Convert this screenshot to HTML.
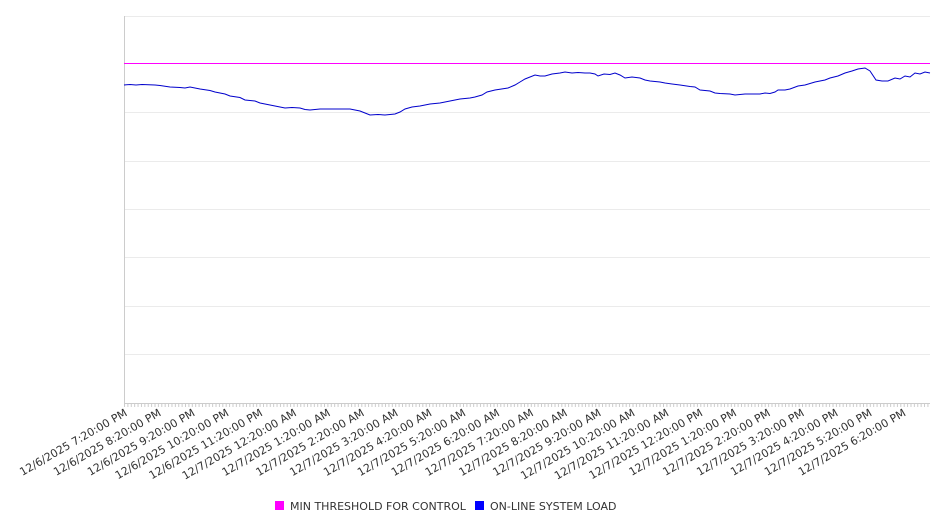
<!DOCTYPE html>
<html><head><meta charset="utf-8"><style>
html,body{margin:0;padding:0;background:#fff;}
svg{display:block;font-family:"DejaVu Sans","Liberation Sans",sans-serif;}
</style></head><body>
<svg width="946" height="526" viewBox="0 0 946 526" xmlns="http://www.w3.org/2000/svg">
<defs>
<pattern id="tk" x="124" y="403" width="3.39" height="5" patternUnits="userSpaceOnUse">
<rect x="0" y="0" width="1" height="5" fill="#ccc"/>
</pattern>
</defs>
<g stroke="#ebebeb" stroke-width="1">
<line x1="124" y1="16.5" x2="930" y2="16.5"/>
<line x1="124" y1="112.5" x2="930" y2="112.5"/>
<line x1="124" y1="161.5" x2="930" y2="161.5"/>
<line x1="124" y1="209.5" x2="930" y2="209.5"/>
<line x1="124" y1="257.5" x2="930" y2="257.5"/>
<line x1="124" y1="306.5" x2="930" y2="306.5"/>
<line x1="124" y1="354.5" x2="930" y2="354.5"/>
</g>
<line x1="124.5" y1="16" x2="124.5" y2="403" stroke="#ccc"/>
<line x1="124" y1="403.5" x2="930" y2="403.5" stroke="#ccc"/>
<rect x="124" y="403" width="806" height="4" fill="url(#tk)"/>
<rect x="124" y="63" width="806" height="1" fill="#ff00ff"/>
<polyline fill="none" stroke="#0000cc" stroke-width="1" points="124,85 130,84.5 136,85 142,84.5 155,85 160,85.5 170,87 180,87.5 185,88 190,87 200,89 210,90.5 215,92 225,94 230,96 240,97.5 245,100 255,101 260,103 270,105 275,106 285,108 292,107.5 300,108 305,109.5 310,110 320,109 335,109 350,109 355,110 360,111 365,113 370,115 378,114.5 385,115 395,114 400,112 405,109 412,107 420,106 430,104 440,103 445,102 455,100 460,99 470,98 475,97 482,95 487,92 495,90 508,88 515,85 520,82 525,79 535,75 540,76 545,76 552,74 560,73 565,72 572,73 578,72.5 585,73 590,73 595,74 598,76 604,74 610,74.5 615,73 620,75 625,78 632,77 640,78 645,80 650,81 660,82 665,83 672,84 680,85 690,86.5 695,87 700,90 710,91 715,93 720,93.5 730,94 735,95 745,94 755,94 760,94 765,93 770,93.5 775,92 778,90 785,90 790,89 798,86 805,85 815,82 825,80 830,78 838,76 845,73 852,71 858,69 865,68 870,71 876,80 882,81 888,81 895,78 900,79 905,76 910,77 915,73 920,74 925,72 930,73"/>
<g font-size="11" fill="#333" text-anchor="end">
<text x="128" y="415" transform="rotate(-30 128 415)">12/6/2025 7:20:00 PM</text>
<text x="161.85" y="415" transform="rotate(-30 161.85 415)">12/6/2025 8:20:00 PM</text>
<text x="195.7" y="415" transform="rotate(-30 195.7 415)">12/6/2025 9:20:00 PM</text>
<text x="229.55" y="415" transform="rotate(-30 229.55 415)">12/6/2025 10:20:00 PM</text>
<text x="263.4" y="415" transform="rotate(-30 263.4 415)">12/6/2025 11:20:00 PM</text>
<text x="297.25" y="415" transform="rotate(-30 297.25 415)">12/7/2025 12:20:00 AM</text>
<text x="331.1" y="415" transform="rotate(-30 331.1 415)">12/7/2025 1:20:00 AM</text>
<text x="364.95" y="415" transform="rotate(-30 364.95 415)">12/7/2025 2:20:00 AM</text>
<text x="398.8" y="415" transform="rotate(-30 398.8 415)">12/7/2025 3:20:00 AM</text>
<text x="432.65" y="415" transform="rotate(-30 432.65 415)">12/7/2025 4:20:00 AM</text>
<text x="466.5" y="415" transform="rotate(-30 466.5 415)">12/7/2025 5:20:00 AM</text>
<text x="500.35" y="415" transform="rotate(-30 500.35 415)">12/7/2025 6:20:00 AM</text>
<text x="534.2" y="415" transform="rotate(-30 534.2 415)">12/7/2025 7:20:00 AM</text>
<text x="568.05" y="415" transform="rotate(-30 568.05 415)">12/7/2025 8:20:00 AM</text>
<text x="601.9" y="415" transform="rotate(-30 601.9 415)">12/7/2025 9:20:00 AM</text>
<text x="635.75" y="415" transform="rotate(-30 635.75 415)">12/7/2025 10:20:00 AM</text>
<text x="669.6" y="415" transform="rotate(-30 669.6 415)">12/7/2025 11:20:00 AM</text>
<text x="703.45" y="415" transform="rotate(-30 703.45 415)">12/7/2025 12:20:00 PM</text>
<text x="737.3" y="415" transform="rotate(-30 737.3 415)">12/7/2025 1:20:00 PM</text>
<text x="771.15" y="415" transform="rotate(-30 771.15 415)">12/7/2025 2:20:00 PM</text>
<text x="805" y="415" transform="rotate(-30 805 415)">12/7/2025 3:20:00 PM</text>
<text x="838.85" y="415" transform="rotate(-30 838.85 415)">12/7/2025 4:20:00 PM</text>
<text x="872.7" y="415" transform="rotate(-30 872.7 415)">12/7/2025 5:20:00 PM</text>
<text x="906.55" y="415" transform="rotate(-30 906.55 415)">12/7/2025 6:20:00 PM</text>
</g>
<rect x="275" y="501" width="9" height="9" fill="#ff00ff"/>
<text x="290" y="510" font-size="11" fill="#333">MIN THRESHOLD FOR CONTROL</text>
<rect x="475" y="501" width="9" height="9" fill="#0000ff"/>
<text x="490" y="510" font-size="11" fill="#333">ON-LINE SYSTEM LOAD</text>
</svg>
</body></html>
